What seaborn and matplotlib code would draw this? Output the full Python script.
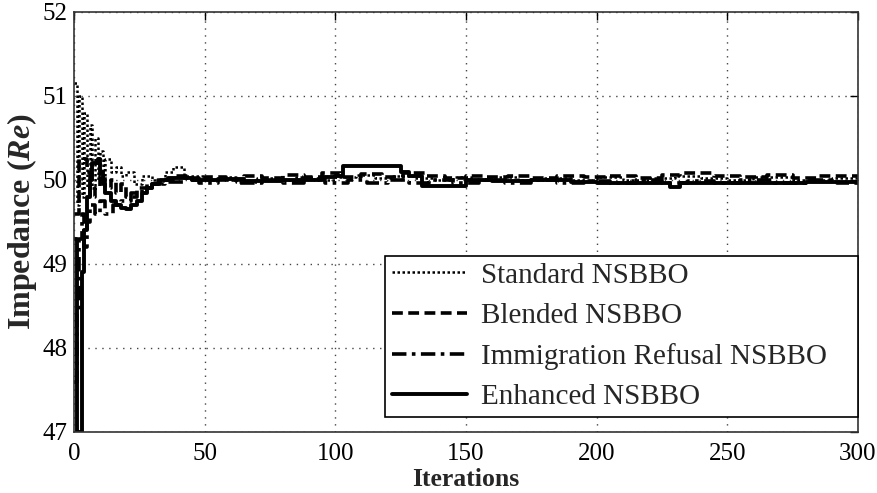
import matplotlib
matplotlib.use("Agg")
import matplotlib.pyplot as plt
import seaborn as sns
import pandas as pd

# ---- data ----
std_x = [0, 1, 2, 3, 4, 5, 6, 7, 8, 9, 10, 11, 12, 14, 16, 18, 20, 23, 26, 30, 35, 38, 42, 45, 50, 55, 62, 70, 78, 85, 92, 100,
         108, 115, 122, 130, 138, 145, 152, 160, 170, 180, 190, 200, 210, 220, 230, 240, 250, 260, 275, 290, 300]
std_y = [51.15, 49.7, 51.0, 49.8, 50.8, 49.9, 50.65, 49.9, 50.5, 50.0, 50.35, 49.95, 50.25, 50.1, 50.15, 50.05, 50.1, 49.95,
         50.05, 50.0, 50.1, 50.15, 50.05, 50.05, 50.0, 50.03, 49.98, 50.02, 50.0, 50.04, 50.0, 50.03,
         50.06, 50.02, 50.05, 50.02, 50.0, 50.03, 50.0, 50.03, 50.0, 50.02, 50.0, 50.03, 50.0, 50.02, 50.05, 50.02, 50.0,
         50.03, 50.0, 50.02, 50.0]

bld_x = [0, 2, 5, 6, 8, 10, 12, 14, 16, 18, 20, 24, 28, 32, 38, 45, 50, 58, 65, 72, 80, 88, 95, 102, 110, 118, 126, 135,
         142, 150, 158, 166, 175, 185, 195, 205, 215, 225, 232, 245, 255, 265, 275, 285, 300]
bld_y = [49.6, 50.25, 50.1, 49.8, 49.9, 50.05, 49.9, 50.0, 49.85, 49.95, 49.8, 49.9, 49.95, 50.0, 50.05, 50.0, 50.03,
         50.0, 50.05, 50.02, 50.06, 50.03, 50.08, 50.04, 50.07, 50.03, 50.08, 50.05,
         50.02, 50.05, 50.03, 50.05, 50.02, 50.05, 50.03, 50.05, 50.02, 50.06, 50.08, 50.05, 50.03, 50.06, 50.02, 50.05, 50.03]

imm_x = [0, 1, 2, 3, 4, 5, 6, 8, 10, 12, 15, 18, 22, 26, 30, 35, 42, 48, 55, 63, 72, 80, 88, 96, 105, 112, 120, 128, 136,
         145, 155, 165, 175, 185, 195, 205, 215, 225, 235, 245, 255, 268, 280, 292, 300]
imm_y = [47.6, 48.4, 49.3, 49.6, 49.2, 49.5, 49.7, 49.6, 49.75, 49.6, 49.7, 49.75, 49.85, 49.9, 49.95, 49.98, 50.02,
         49.97, 50.0, 49.96, 50.0, 49.97, 50.01, 49.97, 50.0, 49.96, 50.0, 49.97, 50.0,
         49.96, 50.0, 49.97, 50.0, 49.96, 49.99, 49.96, 50.0, 49.97, 49.99, 49.96, 50.0, 49.97, 50.0, 49.96, 49.98]

enh_x = [0, 1, 3, 4, 5, 6, 7, 9, 10, 11, 12, 14, 16, 18, 20, 22, 24, 26, 28, 30, 33, 36, 45, 55, 65, 80, 95, 100, 103,
         125, 128, 133, 150, 160, 175, 190, 200, 215, 228, 232, 260, 280, 300]
enh_y = [49.3, 47.0, 48.9, 49.4, 49.8, 50.0, 50.2, 50.25, 50.1, 49.95, 49.85, 49.75, 49.7, 49.67, 49.65, 49.7, 49.75,
         49.85, 49.9, 49.95, 50.0, 50.02, 50.0, 50.01, 49.99, 50.0, 50.03, 50.05, 50.17,
         50.1, 50.05, 49.93, 50.0, 49.99, 50.0, 49.98, 49.97, 49.96, 49.92, 49.96, 49.97, 49.98, 49.97]

labels = ["Standard NSBBO", "Blended NSBBO", "Immigration Refusal NSBBO", "Enhanced NSBBO"]
x_ticks = [0, 50, 100, 150, 200, 250, 300]
y_ticks = [47, 48, 49, 50, 51, 52]

# ---- style ----
sns.set_style("white")
plt.rcParams["font.family"] = ["Liberation Serif", "DejaVu Serif"]
plt.rcParams["mathtext.fontset"] = "custom"
plt.rcParams["mathtext.rm"] = "Liberation Serif"
plt.rcParams["mathtext.it"] = "Liberation Serif:italic"
plt.rcParams["mathtext.bf"] = "Liberation Serif:bold"
plt.rcParams["mathtext.bfit"] = "Liberation Serif:italic:bold"

fig = plt.figure(figsize=(8.78, 4.93), dpi=100)
ax = fig.add_axes([74 / 878, 61 / 493, 784 / 878, 420 / 493])

series = [
    (std_x, std_y, labels[0], (0, (1, 1)), 1.8),
    (bld_x, bld_y, labels[1], (0, (3, 1.5)), 2.6),
    (imm_x, imm_y, labels[2], (0, (4, 1.5, 1, 1.5)), 2.6),
    (enh_x, enh_y, labels[3], "-", 2.8),
]
for xs, ys, lab, ls, lw in series:
    df = pd.DataFrame({"Iterations": xs, "Impedance": ys})
    sns.lineplot(data=df, x="Iterations", y="Impedance", ax=ax, color="black",
                 linestyle=ls, linewidth=lw, drawstyle="steps-post", label=lab,
                 estimator=None, sort=False)

ax.set_xlim(0, 300)
ax.set_ylim(47, 52)
ax.set_xticks(x_ticks)
ax.set_yticks(y_ticks)
ax.grid(True, linestyle=(0, (1, 4)), color="#444444", linewidth=1.0)
ax.tick_params(axis="x", pad=8)
ax.tick_params(axis="y", pad=5)
ax.tick_params(direction="in", top=True, right=True, length=6, width=1,
               labelsize=18, colors="black")
for s in ax.spines.values():
    s.set_color("#333333")
    s.set_linewidth(1.2)

ax.set_xlabel("Iterations", fontsize=18.5, fontweight="bold", labelpad=2)
ax.set_ylabel(r"Impedance $\mathbf{(}\mathbfit{Re}\mathbf{)}$", fontsize=23,
              fontweight="bold", labelpad=2)

leg = ax.legend(loc="lower left", bbox_to_anchor=(0.397, 0.036, 0.603, 0.385),
                mode="expand", fontsize=21, frameon=True, fancybox=False,
                handlelength=2.6, handletextpad=0.45, labelspacing=0.48,
                borderpad=0.22, borderaxespad=0)
leg.get_frame().set_edgecolor("black")
leg.get_frame().set_linewidth(1.2)
leg.get_frame().set_alpha(1)

fig.savefig("out.png", dpi=100)
